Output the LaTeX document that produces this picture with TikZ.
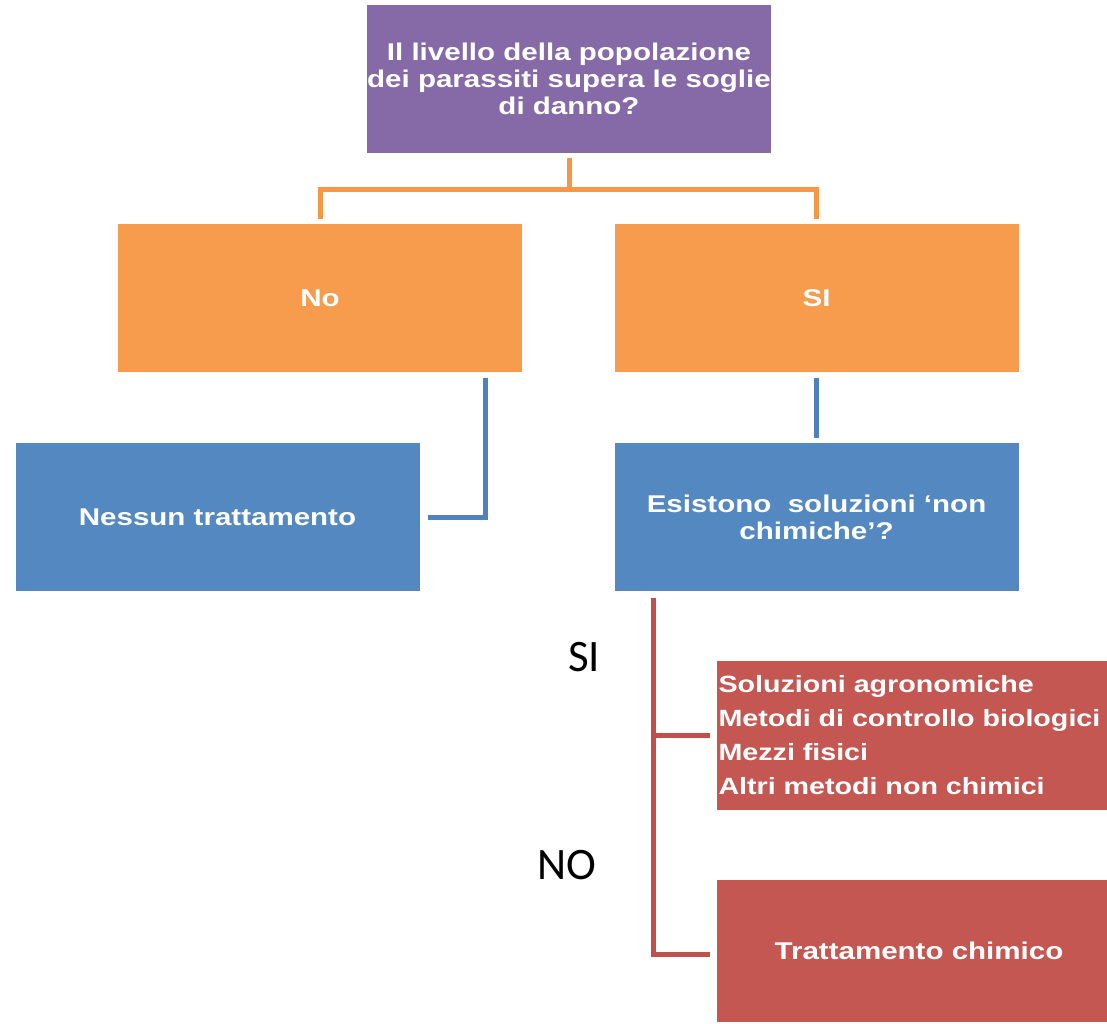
\documentclass[tikz,border=0pt]{standalone}
\usepackage{fontspec}
\setmainfont{Liberation Sans}
\newfontfamily\boxfont[FakeStretch=1.22]{Liberation Sans}
\newfontfamily\labelfont{Carlito}
\usetikzlibrary{calc}
\definecolor{qpurple}{RGB}{134,106,167}
\definecolor{qorange}{RGB}{247,155,77}
\definecolor{qblue}{RGB}{84,136,193}
\definecolor{qred}{RGB}{196,87,82}
\definecolor{lorange}{RGB}{247,150,70}
\definecolor{lblue}{RGB}{79,129,189}
\definecolor{lred}{RGB}{192,80,77}

\begin{document}
\begin{tikzpicture}[x=1pt, y=-1pt,
    box/.style={rectangle, inner sep=0pt, minimum width=404pt,
      minimum height=148pt, text=white, align=center,
      font=\boxfont\bfseries\fontsize{24.2}{27}\selectfont},
    answer/.style={inner sep=0pt, font=\labelfont\fontsize{45}{45}\selectfont}]
  \useasboundingbox (0,0) rectangle (1107,1024);
  \node[box, fill=qpurple, minimum width=402pt] (question) at (569,79)
    {Il livello della popolazione\\dei parassiti supera le soglie\\di danno?};
  \node[box, fill=qorange] (no) at (320,298) {No};
  \node[box, fill=qorange] (yes) at (816.5,298) {SI};
  \node[box, fill=qblue] (none) at (217.5,517) {Nessun trattamento};
  \node[box, fill=qblue] (exist) at (816.5,517)
    {Esistono\ \ soluzioni ‘non\\chimiche’?};
  \node[box, fill=qred, minimum width=390pt, minimum height=149pt,
        text width=387pt, align=left,
        font=\boxfont\bfseries\fontsize{23.5}{34}\selectfont] (alt) at (912,735.5)
    {Soluzioni agronomiche\\Metodi di controllo biologici\\Mezzi fisici\\Altri metodi non chimici};
  \node[box, fill=qred, minimum width=390pt, minimum height=142pt] (chem) at (912,951)
    {\hspace*{14pt}Trattamento chimico};
  \node[answer] (lblyes) at (584,657) {SI};
  \node[answer] (lblno) at (567,865) {NO};
  \begin{scope}[line width=5pt]
    \foreach \target in {no, yes}{
      \draw[lorange, shorten <=5pt, shorten >=5pt]
        (question.south) -- ++(0,36) -| (\target.north);
    }
    \draw[lblue, shorten <=6pt, shorten >=8pt]
      ($(no.south east)+(-37,0)$) |- (none.east);
    \draw[lblue, shorten <=6pt, shorten >=5pt] (yes.south) -- (exist.north);
    \coordinate (fork) at ($(exist.south west)+(39,0)$);
    \draw[lred, shorten <=7pt, shorten >=7pt] (fork) |- ($(chem.west)+(0,3)$);
    \draw[lred, shorten >=7pt] (fork |- alt.west) -- (alt.west);
  \end{scope}
\end{tikzpicture}
\end{document}
